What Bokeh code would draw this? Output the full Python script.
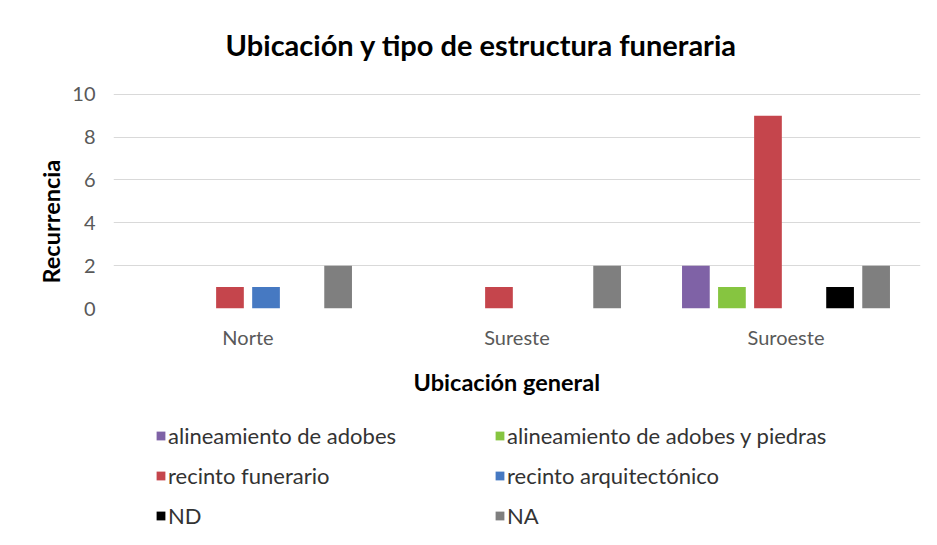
from bokeh.plotting import figure
from bokeh.layouts import column
from bokeh.models import (FactorRange, Range1d, Legend, LegendItem, Label, Title,
                          ColumnDataSource, FixedTicker)
from bokeh.transform import dodge
from bokeh.embed import file_html
from bokeh.resources import INLINE

# ---------------- data ----------------
categories = ["Norte", "Sureste", "Suroeste"]
series_names = ["alineamiento de adobes", "alineamiento de adobes y piedras",
                "recinto funerario", "recinto arquitectónico", "ND", "NA"]
alineamiento_adobes = [0, 0, 2]
alineamiento_adobes_piedras = [0, 0, 1]
recinto_funerario = [1, 1, 9]
recinto_arquitectonico = [1, 0, 0]
nd = [0, 0, 1]
na = [2, 2, 2]
y_ticks = [0, 2, 4, 6, 8, 10]
title_text = "Ubicación y tipo de estructura funeraria"
x_title = "Ubicación general"
y_title = "Recurrencia"

series_values = [alineamiento_adobes, alineamiento_adobes_piedras,
                 recinto_funerario, recinto_arquitectonico, nd, na]
colors = ["#7F62A6", "#86C540", "#C5454C", "#4679C2", "#000000", "#7F7F7F"]

FONT = "Lato"
slot = 0.134
bar_w = 0.103

# ---------------- main chart ----------------
# frame: x 113..920, y 0..312 ; value 10 sits at y=95 (21.7 px per unit)
p = figure(width=921, height=412, x_range=FactorRange(*categories),
           y_range=Range1d(0, 14.378), output_backend="svg", toolbar_location=None,
           min_border_left=113, min_border_right=1, min_border_top=0,
           min_border_bottom=100)
p.outline_line_color = None
p.background_fill_color = "white"
p.border_fill_color = "white"

def add_bars(fig):
    rs = []
    for i, (vals, col) in enumerate(zip(series_values, colors)):
        cats = [c for c, v in zip(categories, vals) if v != 0]
        tops = [v for v in vals if v != 0]
        src = ColumnDataSource(dict(cat=cats, top=tops))
        r = fig.vbar(x=dodge("cat", (i - 2.5) * slot, range=fig.x_range), top="top",
                     width=bar_w, source=src, fill_color=col, line_color=None)
        rs.append(r)
    return rs

add_bars(p)

p.yaxis.ticker = FixedTicker(ticks=y_ticks)
for ax in (p.xaxis[0], p.yaxis[0]):
    ax.axis_line_color = None
    ax.major_tick_line_color = None
    ax.minor_tick_line_color = None
    ax.major_tick_out = 0
    ax.major_tick_in = 0
    ax.minor_tick_out = 0
    ax.major_label_text_font = FONT
    ax.major_label_text_color = "#595959"
    ax.major_label_text_font_size = "20px"
p.yaxis.major_label_standoff = 18
p.xaxis.major_label_standoff = 16
p.xgrid.grid_line_color = None
p.ygrid.grid_line_color = "#d9d9d9"
p.ygrid.grid_line_width = 1

p.add_layout(Label(x=368, y=264, x_units="screen", y_units="screen",
                   text=title_text, text_align="center", text_baseline="middle",
                   text_font=FONT, text_font_style="bold", text_font_size="29px",
                   text_color="#000000"))
p.add_layout(Title(text=x_title, align="left", offset=300, vertical_align="middle",
                   standoff=31, text_font=FONT, text_font_style="bold",
                   text_font_size="23.5px", text_color="#000000"), "below")
p.add_layout(Title(text=y_title, align="left", offset=25, vertical_align="middle",
                   standoff=8, text_font=FONT, text_font_style="bold",
                   text_font_size="23.5px", text_color="#000000"), "left")

# ---------------- legend strip ----------------
# the strip's value range lies far above the bars, so its copies of the bars
# fall below the strip (outside the canvas); only the legend is visible
q = figure(width=921, height=117, x_range=FactorRange(*categories),
           y_range=Range1d(50, 60), output_backend="svg", toolbar_location=None,
           min_border=0, x_axis_location=None, y_axis_location=None)
q.outline_line_color = None
q.grid.visible = False
q.border_fill_color = "white"
q.background_fill_color = "white"
legend_renderers = add_bars(q)

order = [0, 2, 4, 1, 3, 5]
items = [LegendItem(label=series_names[k], renderers=[legend_renderers[k]]) for k in order]
legend = Legend(items=items, location=(42, 0), orientation="vertical", ncols=2,
                glyph_width=11, glyph_height=11, label_height=27, label_width=313,
                label_standoff=2, spacing=13, padding=0, margin=0,
                border_line_color=None, background_fill_alpha=0,
                label_text_font=FONT, label_text_font_size="22px",
                label_text_color="#333333")
q.add_layout(legend)

open("out.html", "w").write(file_html(column(p, q, spacing=0), INLINE))
